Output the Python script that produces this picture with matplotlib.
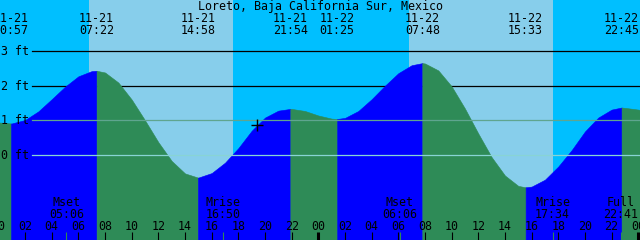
import matplotlib
matplotlib.use('Agg')
import matplotlib.pyplot as plt
import matplotlib.transforms as mtransforms
import numpy as np

title = 'Loreto, Baja California Sur, Mexico'

# tide events shown in the header
event_days = [0, 0, 0, 0, 1, 1, 1, 1]
event_dates = ['11-21', '11-21', '11-21', '11-21', '11-22', '11-22', '11-22', '11-22']
event_times = ['00:57', '07:22', '14:58', '21:54', '01:25', '07:48', '15:33', '22:45']
event_heights = [0.91, 2.43, -0.65, 1.33, 1.04, 2.65, -0.93, 1.37]

# curve at whole hours (ft)
curve_hours = list(range(0, 50))
curve_heights = [0.94, 0.91, 1.01, 1.26, 1.61, 1.97, 2.27, 2.42, 2.38, 2.09,
                 1.60, 1.00, 0.37, -0.17, -0.53, -0.65, -0.52, -0.22, 0.20, 0.70,
                 1.08, 1.28, 1.33, 1.27, 1.14, 1.05, 1.07, 1.27, 1.61, 2.00,
                 2.36, 2.59, 2.64, 2.44, 1.98, 1.34, 0.62, -0.06, -0.59, -0.89,
                 -0.91, -0.71, -0.33, 0.14, 0.68, 1.08, 1.31, 1.36, 1.31, 1.25]

# moon events along the bottom
moon_days = [0, 0, 1, 1, 1]
moon_names = ['Mset', 'Mrise', 'Mset', 'Mrise', 'Full']
moon_times = ['05:06', '16:50', '06:06', '17:34', '22:41']

# daylight
sunrise = ['06:48', '06:48']
sunset = ['17:36', '17:36']

depth_levels = [0, 1, 2, 3]
mark_hour, mark_height = 19.4, 0.86

DAY_SKY = '#87CEEB'
NIGHT_SKY = '#00BFFF'
RISE = '#0000FF'
FALL = '#2E8B57'


def to_hours(day, hhmm):
    h, m = hhmm.split(':')
    return 24 * day + int(h) + int(m) / 60


def frac(y_px):
    return 1 - y_px / 240


plt.rcParams['font.family'] = 'DejaVu Sans Mono'
plt.rcParams['font.size'] = 8.4

fig = plt.figure(figsize=(6.4, 2.4), dpi=100)
ax = fig.add_axes([0, 0, 1, 1])
ax.set_xlim(0.12, 48.13)
ax.set_ylim(-2.45, 4.47)
ax.axis('off')

# sky
ax.axvspan(-1, 50, color=NIGHT_SKY, lw=0, zorder=0)
for d in range(2):
    ax.axvspan(to_hours(d, sunrise[d]), to_hours(d, sunset[d]), color=DAY_SKY, lw=0, zorder=0)

# depth lines behind the water
for v in [2, 3]:
    ax.axhline(v, xmin=32 / 640, color='black', lw=0.9, zorder=1)

# water, coloured by rising / falling
ev_hours = [to_hours(d, s) for d, s in zip(event_days, event_times)]
t = np.array(curve_hours + ev_hours, dtype=float)
h = np.array(curve_heights + event_heights, dtype=float)
order = np.argsort(t)
t, h = t[order], h[order]
bounds = [-np.inf] + ev_hours + [np.inf]
for a, b in zip(bounds[:-1], bounds[1:]):
    m = (t >= a) & (t <= b)
    ts, hs = t[m], h[m]
    col = RISE if hs[-1] > hs[0] else FALL
    ax.fill_between(ts, hs, -3, color=col, lw=0.4, edgecolor=col, zorder=2)

# datum lines over the water
ax.axhline(1, xmin=32 / 640, color='#5fa58f', lw=0.9, zorder=3)
ax.axhline(0, xmin=32 / 640, color='#88d4d4', lw=0.9, zorder=3)

ax.plot(mark_hour, mark_height, marker='+', color='black', ms=9, mew=1, zorder=5)

# depth labels
lab_tr = mtransforms.offset_copy(
    mtransforms.blended_transform_factory(ax.transAxes, ax.transData), fig, y=-4, units='dots')
for v in depth_levels:
    ax.text(1 / 640, v, f'{v} ft', transform=lab_tr, ha='left', va='baseline', zorder=6)

# header
fig.text(0.5, frac(10), title, ha='center', va='baseline')
top = mtransforms.blended_transform_factory(ax.transData, ax.transAxes)
for x, dt, tm in zip(ev_hours, event_dates, event_times):
    ax.text(x, frac(21.5), dt, transform=top, ha='center', va='baseline', clip_on=False)
    ax.text(x, frac(34), tm, transform=top, ha='center', va='baseline', clip_on=False)

# hour ticks and labels
tick_h = 8 / 240
for hr in range(0, 49, 2):
    lw = 2.2 if hr % 24 == 0 else 0.8
    ax.plot([hr, hr], [0, tick_h], transform=top, color='black', lw=lw, solid_capstyle='butt', zorder=6)
    ax.text(hr, frac(230), f'{hr % 24:02d}', transform=top, ha='center', va='baseline', zorder=6)

# moon events
for d, name, tm in zip(moon_days, moon_names, moon_times):
    x = to_hours(d, tm)
    ax.plot([x, x], [0, tick_h], transform=top, color='#2E8B57', lw=0.8, solid_capstyle='butt', zorder=6)
    ax.text(x, frac(206), name, transform=top, ha='center', va='baseline', zorder=6)
    ax.text(x, frac(218), tm, transform=top, ha='center', va='baseline', zorder=6)

fig.savefig('out.png', dpi=100)
